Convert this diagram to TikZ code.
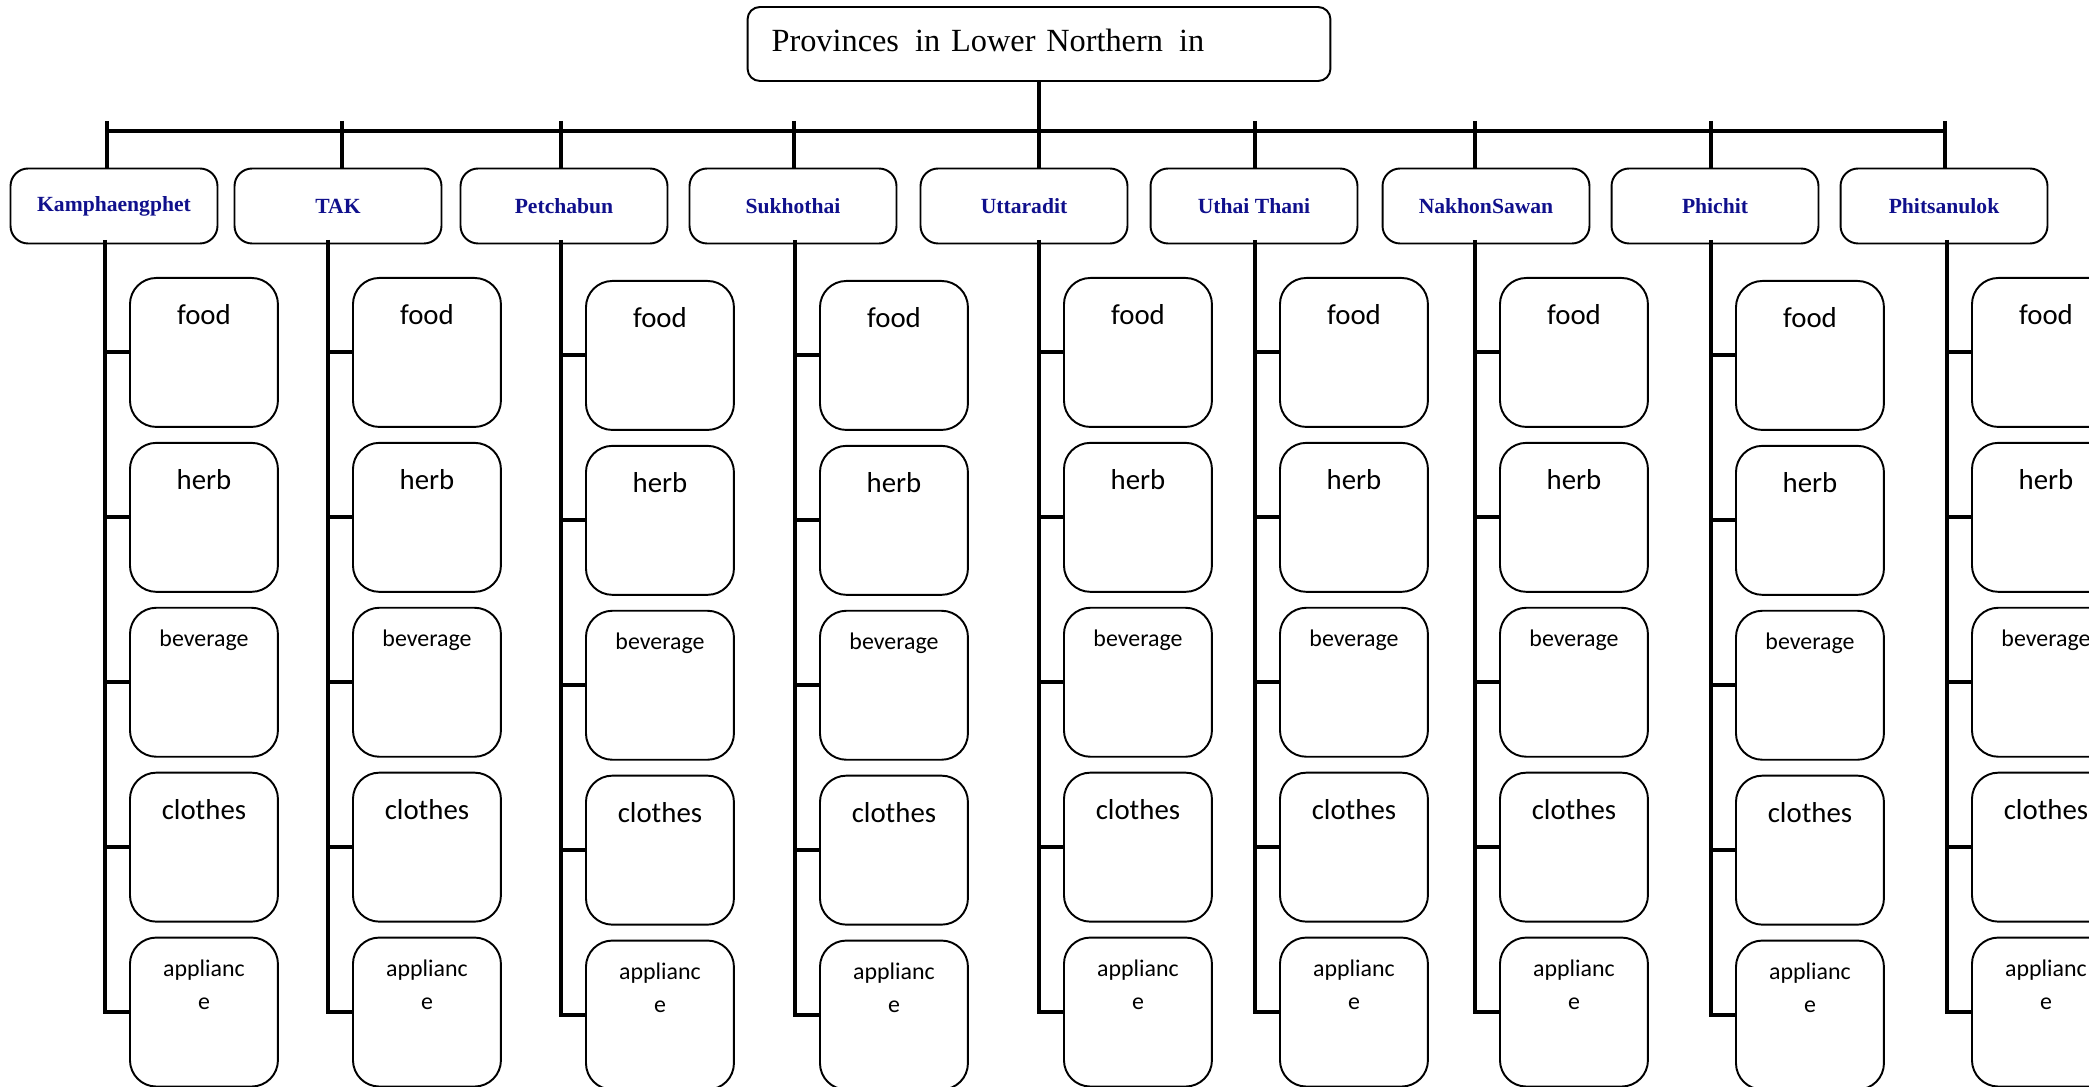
\documentclass[tikz,border=0pt]{standalone}
\usepackage{fontspec}
\setmainfont{Liberation Serif}
\newfontfamily\itemfont{Carlito}
\usetikzlibrary{positioning}
\definecolor{provblue}{RGB}{16,16,140}

\begin{document}
\begin{tikzpicture}[
    x=0.02cm, y=-0.02cm,
    node distance=0.28cm,
    headbox/.style={draw, rounded corners=7pt, line width=1.1pt, minimum width=11.66cm, minimum height=1.48cm, text width=10.7cm, text depth=4.6pt, inner xsep=0.48cm, align=left, font=\fontsize{18.4}{22}\selectfont},
    prov/.style={draw, rounded corners=10pt, line width=1.1pt, minimum width=4.14cm, minimum height=1.5cm, font=\fontsize{12.3}{15}\selectfont\bfseries, text=provblue},
    item/.style={draw, rounded corners=15pt, line width=1.1pt, minimum width=2.96cm, minimum height=2.98cm},
    biglbl/.style={anchor=north, inner sep=0pt, yshift=-0.54cm, font=\itemfont\fontsize{16.4}{20}\selectfont},
    smalllbl/.style={anchor=north, inner sep=0pt, yshift=-0.46cm, align=center, font=\itemfont\fontsize{13.6}{18.7}\selectfont},
    link/.style={line width=2.3pt}
]
    \useasboundingbox (0,0) rectangle (2089,1087);
    \clip (0,0) rectangle (2089,1087);

    % root
    \node[headbox] (hd) at (1039,44) {Provinces\hspace{0.5em}in Lower Northern\hspace{0.5em}in};
    \coordinate (bus) at (0,131);

    % provinces and their products
    \foreach \i/\px/\ax/\sx/\fy/\name in {
        1/114/107/105/277/Kamphaengphet,
        2/338/342/328/277/TAK,
        3/564/561/561/280/Petchabun,
        4/793/794/795/280/Sukhothai,
        5/1024/1039/1039/277/Uttaradit,
        6/1254/1255/1255/277/Uthai Thani,
        7/1486/1475/1475/277/NakhonSawan,
        8/1715/1711/1711/280/Phichit,
        9/1944/1945/1947/277/Phitsanulok}{
        \node[prov] (p\i) at (\px,206) {\name};
        \coordinate (t\i) at (\ax,121);
        \coordinate (s\i) at (\sx,240);
        \draw[link] (t\i) -- (t\i |- p\i.north);

        \node[item, anchor=north west, label={[biglbl]north:food}] (f\i) at (\sx+24,\fy) {};
        \node[item, below=of f\i, label={[biglbl]north:herb}] (h\i) {};
        \node[item, below=of h\i, label={[smalllbl]north:beverage}] (b\i) {};
        \node[item, below=of b\i, label={[biglbl]north:clothes}] (c\i) {};
        \node[item, below=of c\i, label={[smalllbl]north:applianc\\e}] (a\i) {};

        \draw[link] (s\i) |- (a\i.west);
        \foreach \n in {f,h,b,c}
            \draw[link] (s\i |- \n\i.west) -- (\n\i.west);
    }

    \draw[link] (hd.south) -- (hd.south |- bus);
    \draw[line width=2.6pt] (t1 |- bus) -- (t9 |- bus);
\end{tikzpicture}
\end{document}
